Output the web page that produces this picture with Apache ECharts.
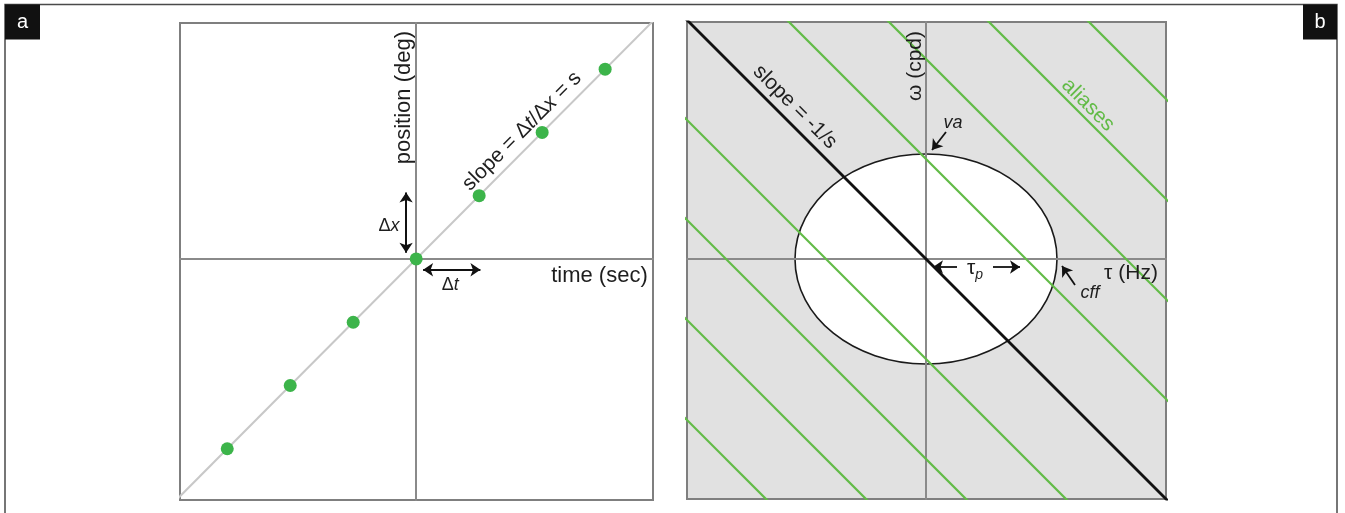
<!DOCTYPE html>
<html><head><meta charset="utf-8">
<script src="https://cdn.jsdelivr.net/npm/echarts@6/dist/echarts.min.js"></script>
<style>html,body{margin:0;padding:0;background:#fff}#c{width:1345px;height:513px}</style>
</head><body><div id="c"></div><script>
// ---------- Panel a: space-time plot of a sampled moving target ----------
const sampleTimes = [-3, -2, -1, 0, 1, 2, 3];
const samplePositions = [-3, -2, -1, 0, 1, 2, 3];
const motionLineTimes = [-3.9, 3.9];
const motionLinePositions = [-3.9, 3.9];
// ---------- Panel b: spectrum with window of visibility ----------
const aliasOffsets = [-4, -3, -2, -1, 1, 2, 3, 4];
const signalOffset = 0;
const windowCenter = [0, 0];
const windowRadii = [1.31, 1.05]; // [cff half-width, va half-height]

const FONT = 'Liberation Sans, Arial, Helvetica, sans-serif';
const TXT = '#1e1e1e';
const GREEN_DOT = '#3cb44a';
const GREEN_LINE = '#62bb47';

function txt(x, y, formatter, opts) {
  opts = opts || {};
  return {
    value: [x, y],
    label: Object.assign({
      show: true, position: 'inside', formatter: formatter,
      fontFamily: FONT, fontSize: 20, color: TXT, opacity: 1, rotate: 0
    }, opts)
  };
}
const italic = (size, color) => ({ fontStyle: 'italic', fontFamily: FONT, fontSize: size, color: color || TXT });

const axisCommon = (min, max, gi) => ({
  type: 'value', gridIndex: gi, min: min, max: max, z: 3,
  axisLine: { show: true, onZero: true, lineStyle: { color: '#8a8a8a', width: 2 } },
  axisTick: { show: false }, axisLabel: { show: false }, splitLine: { show: false }
});

// line omega + tau = k (slope -1/s), clipped by the grid
function diagSeries(k, color, width, z) {
  return {
    type: 'line', xAxisIndex: 1, yAxisIndex: 1, silent: true, z: z, clip: true,
    data: [[-2.6, k + 2.6], [2.6, k - 2.6]],
    showSymbol: false, symbol: 'none',
    lineStyle: { color: color, width: width }
  };
}
const labelSeries = (gi, data) => ({
  type: 'scatter', xAxisIndex: gi, yAxisIndex: gi, silent: true, z: 7,
  symbolSize: 1, itemStyle: { color: 'rgba(255,255,255,0)' },
  data: data
});

const chart = echarts.init(document.getElementById('c'), null, { renderer: 'canvas' });
chart.setOption({
  animation: false,
  backgroundColor: '#fff',
  grid: [
    { left: 180, top: 23, width: 473, height: 477, show: true, borderColor: '#7f7f7f', borderWidth: 2, backgroundColor: '#fff' },
    { left: 687, top: 22, width: 479, height: 477, show: true, borderColor: '#7f7f7f', borderWidth: 2, backgroundColor: '#e1e1e1' }
  ],
  xAxis: [axisCommon(-3.75, 3.76, 0), axisCommon(-2.39, 2.40, 1)],
  yAxis: [axisCommon(-3.81, 3.73, 0), axisCommon(-2.40, 2.37, 1)],
  graphic: [
    { type: 'rect', shape: { x: 5, y: 4.5, width: 1332, height: 530 }, style: { fill: 'none', stroke: '#4a4a4a', lineWidth: 1.5 }, silent: true, z: 10 },
    { type: 'rect', shape: { x: 5, y: 4.5, width: 35, height: 35 }, style: { fill: '#111' }, z: 11 },
    { type: 'text', x: 22.5, y: 22, style: { text: 'a', fill: '#fff', font: '20px ' + FONT, align: 'center', verticalAlign: 'middle' }, z: 12 },
    { type: 'rect', shape: { x: 1303, y: 4.5, width: 34, height: 35 }, style: { fill: '#111' }, z: 11 },
    { type: 'text', x: 1320, y: 22, style: { text: 'b', fill: '#fff', font: '20px ' + FONT, align: 'center', verticalAlign: 'middle' }, z: 12 }
  ],
  series: [
    // ----- panel a -----
    {
      type: 'line', xAxisIndex: 0, yAxisIndex: 0, silent: true, z: 2, clip: true,
      data: motionLineTimes.map((t, i) => [t, motionLinePositions[i]]),
      showSymbol: false, symbol: 'none',
      lineStyle: { color: '#c8c8c8', width: 2 }
    },
    {
      type: 'scatter', xAxisIndex: 0, yAxisIndex: 0, silent: true, z: 6,
      data: sampleTimes.map((t, i) => [t, samplePositions[i]]),
      symbolSize: 13, itemStyle: { color: GREEN_DOT, opacity: 1 }
    },
    {
      type: 'lines', coordinateSystem: 'cartesian2d', xAxisIndex: 0, yAxisIndex: 0, silent: true, z: 5,
      symbol: ['arrow', 'arrow'], symbolSize: 10,
      lineStyle: { color: '#111', width: 2, opacity: 1 },
      data: [
        { coords: [[-0.16, 0.1], [-0.16, 1.05]] },
        { coords: [[0.11, -0.17], [1.02, -0.17]] }
      ]
    },
    labelSeries(0, [
      txt(-0.19, 2.55, 'position (deg)', { rotate: 90, fontSize: 22 }),
      txt(2.91, -0.27, 'time (sec)', { fontSize: 22 }),
      txt(1.68, 2.02, 'slope = Δ{i|t}/Δ{i|x} = s', { rotate: 45, fontSize: 21, rich: { i: italic(21) } }),
      txt(-0.43, 0.52, 'Δ{i|x}', { fontSize: 18, rich: { i: italic(18) } }),
      txt(0.54, -0.41, 'Δ{i|t}', { fontSize: 18, rich: { i: italic(18) } })
    ]),
    // ----- panel b -----
    {
      type: 'custom', xAxisIndex: 1, yAxisIndex: 1, silent: true, z: 2,
      data: [[windowCenter[0], windowCenter[1], windowRadii[0], windowRadii[1]]],
      renderItem: function (params, api) {
        const c = api.coord([api.value(0), api.value(1)]);
        const e = api.coord([api.value(0) + api.value(2), api.value(1) + api.value(3)]);
        return {
          type: 'ellipse',
          shape: { cx: c[0], cy: c[1], rx: Math.abs(e[0] - c[0]), ry: Math.abs(e[1] - c[1]) },
          style: { fill: '#fff', stroke: '#1a1a1a', lineWidth: 1.6 }
        };
      }
    },
  ].concat(aliasOffsets.map(k => diagSeries(k, GREEN_LINE, 2.2, 4)))
   .concat([diagSeries(signalOffset, '#111', 2.8, 5)])
   .concat([
    {
      type: 'lines', coordinateSystem: 'cartesian2d', xAxisIndex: 1, yAxisIndex: 1, silent: true, z: 6,
      symbol: ['none', 'arrow'], symbolSize: 10,
      lineStyle: { color: '#111', width: 1.8, opacity: 1 },
      data: [
        { coords: [[0.2, 1.27], [0.06, 1.09]] },
        { coords: [[1.49, -0.26], [1.36, -0.07]] },
        { coords: [[0.31, -0.08], [0.07, -0.08]] },
        { coords: [[0.67, -0.08], [0.94, -0.08]] }
      ]
    },
    labelSeries(1, [
      txt(-0.11, 1.93, 'ω (cpd)', { rotate: 90, fontSize: 21 }),
      txt(-1.31, 1.52, 'slope = -1/s', { rotate: -45, fontSize: 21 }),
      txt(1.62, 1.54, 'aliases', { rotate: -45, fontSize: 21, color: GREEN_LINE }),
      txt(0.27, 1.36, '{i|va}', { rich: { i: italic(18) } }),
      txt(1.64, -0.34, '{i|cff}', { rich: { i: italic(18) } }),
      txt(0.49, -0.09, '{t|τ}{p|p}', { rich: { t: { fontFamily: FONT, fontSize: 21, color: TXT, lineHeight: 28 }, p: Object.assign(italic(14), { verticalAlign: 'bottom' }) } }),
      txt(2.05, -0.14, 'τ (Hz)', { fontSize: 21 })
    ])
  ])
});
</script></body></html>
